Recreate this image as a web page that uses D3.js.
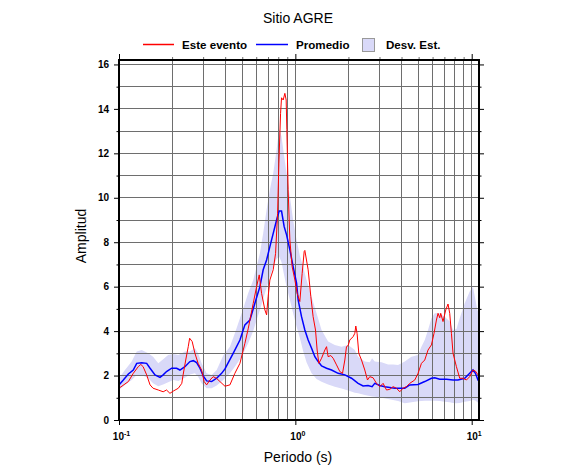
<!DOCTYPE html>
<html><head><meta charset="utf-8">
<script src="https://cdn.jsdelivr.net/npm/d3@7/dist/d3.min.js"></script>
<style>
body{margin:0;background:#fff;}
svg{font-family:"Liberation Sans",Arial,sans-serif;}
</style></head>
<body><svg id="chart" width="586" height="475"></svg>
<script>
const title = "Sitio AGRE";
const xLabel = "Periodo (s)";
const yLabel = "Amplitud";
const legendLabels = ["Este evento", "Promedio", "Desv. Est."];
const xTickValues = [0.1, 1, 10];
const xTickExponents = ["-1", "0", "1"];
const yTickValues = [0, 2, 4, 6, 8, 10, 12, 14, 16];

// Este evento (red)
const eventPeriods = [0.100,0.113,0.1205,0.1286,0.133,0.137,0.1435,0.150,0.156,0.167,0.178,0.186,0.1945,0.203,0.217,0.227,0.231,0.239,0.247,0.2515,0.260,0.2695,0.281,0.294,0.304,0.314,0.328,0.342,0.358,0.3735,0.399,0.4256,0.454,0.485,0.5175,0.540,0.577,0.603,0.624,0.6435,0.672,0.687,0.701,0.717,0.749,0.7725,0.793,0.8065,0.8245,0.835,0.853,0.872,0.887,0.895,0.910,0.931,0.959,0.994,1.024,1.060,1.093,1.122,1.132,1.182,1.224,1.261,1.301,1.329,1.359,1.408,1.470,1.503,1.534,1.589,1.638,1.712,1.787,1.851,1.908,1.950,1.992,2.036,2.126,2.174,2.202,2.239,2.290,2.372,2.476,2.565,2.643,2.759,2.885,3.012,3.145,3.287,3.431,3.583,3.745,3.909,4.081,4.266,4.454,4.754,4.964,5.188,5.417,5.655,5.911,6.115,6.310,6.443,6.588,6.674,6.877,7.124,7.341,7.506,7.674,7.837,8.191,8.551,8.927,9.333,9.743,10.17,10.50,10.86,11.0];
const eventValues = [1.43,1.73,2.10,2.40,2.50,2.40,2.03,1.58,1.43,1.35,1.27,1.35,1.20,1.30,1.43,1.65,2.03,2.70,3.30,3.68,3.53,3.00,2.55,2.25,1.73,1.58,1.80,1.95,1.87,1.73,1.52,1.58,2.10,2.55,3.45,4.10,5.25,6.00,6.53,5.70,4.95,4.73,5.55,6.30,6.76,7.50,9.30,11.56,13.80,14.50,14.40,14.70,14.40,13.06,10.36,8.10,6.90,6.30,5.70,5.33,6.60,7.58,7.63,6.76,5.55,4.65,4.05,3.15,2.55,2.78,3.15,3.30,2.85,2.90,2.78,2.48,2.18,2.10,2.70,3.30,3.35,3.60,3.75,3.90,4.23,3.90,3.00,2.70,2.25,1.80,1.95,1.90,1.65,1.50,1.65,1.35,1.38,1.50,1.43,1.27,1.43,1.50,1.65,1.80,2.10,2.55,2.70,3.15,3.38,3.90,4.50,4.80,4.60,4.80,4.43,4.95,5.22,4.80,3.90,3.00,2.40,1.88,1.88,1.80,1.95,2.25,2.20,2.03,1.95];

// Promedio (blue)
const meanPeriods = [0.100,0.1058,0.113,0.1205,0.126,0.1345,0.1435,0.150,0.160,0.1708,0.178,0.186,0.1989,0.2123,0.2216,0.2365,0.2525,0.2636,0.2755,0.2877,0.3004,0.314,0.3352,0.358,0.3818,0.399,0.444,0.485,0.5175,0.5524,0.5896,0.6295,0.657,0.687,0.717,0.749,0.7827,0.8095,0.835,0.8643,0.8918,0.931,0.9716,1.016,1.037,1.084,1.132,1.182,1.236,1.290,1.347,1.408,1.503,1.604,1.748,1.908,2.082,2.269,2.422,2.585,2.723,2.821,3.012,3.215,3.508,3.662,4.173,4.454,4.964,5.417,5.911,6.172,6.588,7.189,7.837,8.363,9.126,9.743,10.17,10.50,10.86,11.0];
const meanValues = [1.58,1.80,2.07,2.25,2.55,2.58,2.55,2.33,2.03,1.92,2.03,2.18,2.33,2.33,2.25,2.40,2.63,2.67,2.58,2.33,1.98,1.76,1.73,1.88,2.10,2.30,3.00,3.60,4.28,4.50,5.25,6.00,6.76,7.20,7.80,8.40,9.00,9.40,9.40,8.70,8.33,7.66,6.90,6.16,5.40,4.65,4.05,3.60,3.23,2.85,2.63,2.43,2.33,2.25,2.10,2.03,1.88,1.65,1.53,1.55,1.50,1.65,1.55,1.50,1.45,1.43,1.43,1.58,1.60,1.73,1.88,1.90,1.83,1.83,1.80,1.80,1.88,2.10,2.25,2.10,1.80,1.75];

// Desv. Est. band
const bandPeriods = [0.100,0.1081,0.118,0.126,0.1345,0.1466,0.156,0.167,0.178,0.190,0.203,0.217,0.2365,0.2525,0.2695,0.281,0.294,0.314,0.3352,0.358,0.390,0.4256,0.454,0.496,0.540,0.577,0.603,0.6295,0.657,0.687,0.717,0.749,0.7827,0.8095,0.835,0.8643,0.8918,0.931,0.9716,1.016,1.060,1.107,1.157,1.236,1.319,1.408,1.534,1.674,1.827,1.992,2.174,2.269,2.476,2.643,2.723,2.821,3.079,3.356,3.583,3.823,4.173,4.554,4.964,5.188,5.417,5.655,5.911,6.172,6.588,7.031,7.506,7.837,8.191,8.551,9.126,9.743,10.17,10.50,10.77,11.0];
const bandUpper = [1.88,2.25,2.63,3.08,3.15,3.00,2.85,2.55,2.73,2.93,2.97,2.93,3.08,3.08,3.23,3.00,2.55,2.10,2.03,2.25,2.90,3.30,3.90,4.80,5.70,6.30,6.90,7.50,8.40,9.46,10.36,11.10,12.16,13.10,12.76,11.86,11.10,10.06,9.00,8.10,7.40,6.90,6.30,5.55,4.80,4.05,3.53,3.38,3.30,3.38,3.15,2.85,2.63,2.60,2.78,2.63,2.60,2.50,2.50,2.48,2.63,2.85,2.93,3.30,3.60,4.05,4.58,4.80,4.80,4.65,4.43,4.05,4.10,4.58,5.25,5.78,6.00,5.40,4.95,4.80];
const bandLower = [1.35,1.58,1.80,2.03,2.03,1.88,1.65,1.52,1.60,1.70,1.80,1.75,1.90,2.05,2.10,1.95,1.65,1.43,1.43,1.55,1.80,2.10,2.40,2.85,3.45,4.00,4.50,4.95,5.45,5.95,6.45,6.90,7.25,7.36,7.10,6.50,6.00,5.40,4.80,4.20,3.70,3.10,2.60,2.10,1.85,1.72,1.60,1.50,1.42,1.33,1.23,1.20,1.13,1.08,1.06,1.05,1.00,0.95,0.90,0.85,0.75,0.80,0.84,0.86,0.87,0.87,0.87,0.87,0.85,0.82,0.80,0.77,0.75,0.77,0.82,0.85,0.90,0.88,0.80,0.75];

const svg = d3.select("#chart");
const pLeft = 119, pRight = 479, pTop = 60, pBottom = 420;
const x = d3.scaleLog().domain([0.1, 11]).range([pLeft, pRight]);
const y = d3.scaleLinear().domain([0, 16.2]).range([pBottom, pTop]);

svg.append("defs").append("clipPath").attr("id", "clip")
  .append("rect").attr("x", pLeft).attr("y", pTop).attr("width", pRight - pLeft).attr("height", pBottom - pTop);

const plot = svg.append("g").attr("clip-path", "url(#clip)");

// band
const bandData = bandPeriods.map((p, i) => ({p, lo: bandLower[i], hi: bandUpper[i]}));
plot.append("path").datum(bandData)
  .attr("fill", "#d9d9f8")
  .attr("d", d3.area().x(d => x(d.p)).y0(d => y(d.lo)).y1(d => y(d.hi)));

// grid
const minorX = [];
[0.1, 1].forEach(b => { for (let k = 2; k <= 9; k++) minorX.push(+(b * k).toFixed(3)); });
const gridX = minorX.concat(xTickValues);
const gridY = d3.range(1, 17);
plot.append("g").selectAll("line").data(gridX).join("line")
  .attr("x1", d => x(d)).attr("x2", d => x(d)).attr("y1", pTop).attr("y2", pBottom)
  .attr("stroke", "#6e6e6e").attr("stroke-width", 1).attr("shape-rendering", "crispEdges");
plot.append("g").selectAll("line").data(gridY).join("line")
  .attr("x1", pLeft).attr("x2", pRight).attr("y1", d => y(d)).attr("y2", d => y(d))
  .attr("stroke", "#6e6e6e").attr("stroke-width", 1).attr("shape-rendering", "crispEdges");

// lines
const line = d3.line().x(d => x(d[0])).y(d => y(d[1]));
plot.append("path").datum(meanPeriods.map((p, i) => [p, meanValues[i]]))
  .attr("fill", "none").attr("stroke", "#0000ff").attr("stroke-width", 1.5).attr("d", line);
plot.append("path").datum(eventPeriods.map((p, i) => [p, eventValues[i]]))
  .attr("fill", "none").attr("stroke", "#ff0000").attr("stroke-width", 1).attr("d", line);

// axes ticks
function styleAxis(g) {
  g.select(".domain").remove();
  g.selectAll(".tick line").attr("stroke", "#000").attr("stroke-width", 1);
}
const oddY = d3.range(1, 17, 2);
svg.append("g").attr("transform", `translate(${pLeft},0)`)
  .call(d3.axisLeft(y).tickValues(yTickValues).tickSize(5).tickPadding(5).tickFormat(d3.format("d")))
  .call(styleAxis)
  .call(g => g.selectAll("text").attr("font-size", 10).attr("font-weight", "bold").attr("fill", "#000")
    .attr("font-family", "Liberation Sans, Arial, sans-serif"));
svg.append("g").attr("transform", `translate(${pLeft},0)`)
  .call(d3.axisLeft(y).tickValues(oddY).tickSize(2.5).tickFormat(""))
  .call(styleAxis);
svg.append("g").attr("transform", `translate(${pRight},0)`)
  .call(d3.axisRight(y).tickValues(yTickValues).tickSize(5).tickFormat(""))
  .call(styleAxis);
svg.append("g").attr("transform", `translate(${pRight},0)`)
  .call(d3.axisRight(y).tickValues(oddY).tickSize(2.5).tickFormat(""))
  .call(styleAxis);
svg.append("g").attr("transform", `translate(0,${pTop})`)
  .call(d3.axisTop(x).tickValues(xTickValues).tickSize(6).tickFormat(""))
  .call(styleAxis);
svg.append("g").attr("transform", `translate(0,${pTop})`)
  .call(d3.axisTop(x).tickValues(minorX).tickSize(3).tickFormat(""))
  .call(styleAxis)
  .call(g => g.selectAll(".tick line").attr("stroke", "#6e6e6e"));
const xb = svg.append("g").attr("transform", `translate(0,${pBottom})`)
  .call(d3.axisBottom(x).tickValues(xTickValues).tickSize(5).tickPadding(6).tickFormat(""))
  .call(styleAxis);
xb.selectAll(".tick text").each(function(d, i) {
  const t = d3.select(this).attr("font-size", 10).attr("font-weight", "bold").attr("fill", "#000")
    .attr("font-family", "Liberation Sans, Arial, sans-serif").attr("dy", "0.9em").attr("dx", "2");
  t.append("tspan").text("10");
  t.append("tspan").attr("font-size", 7).attr("dy", "-4").text(xTickExponents[i]);
});

// frame
svg.append("rect").attr("x", pLeft).attr("y", pTop).attr("width", pRight - pLeft).attr("height", pBottom - pTop)
  .attr("fill", "none").attr("stroke", "#000").attr("stroke-width", 2);

// titles
svg.append("text").attr("x", 298).attr("y", 23).attr("text-anchor", "middle")
  .attr("font-size", 14).text(title);
svg.append("text").attr("x", 298).attr("y", 462).attr("text-anchor", "middle")
  .attr("font-size", 14).text(xLabel);
svg.append("text").attr("transform", "translate(86,236) rotate(-90)").attr("text-anchor", "middle")
  .attr("font-size", 14).text(yLabel);

// legend
const lg = svg.append("g").attr("font-size", 11.6).attr("font-weight", "bold");
lg.append("line").attr("x1", 143).attr("x2", 174).attr("y1", 44.5).attr("y2", 44.5)
  .attr("stroke", "#ff0000").attr("stroke-width", 1.5);
lg.append("text").attr("x", 182).attr("y", 48.5).text(legendLabels[0]);
lg.append("line").attr("x1", 256).attr("x2", 288).attr("y1", 44.5).attr("y2", 44.5)
  .attr("stroke", "#0000ff").attr("stroke-width", 1.5);
lg.append("text").attr("x", 296).attr("y", 48.5).text(legendLabels[1]);
lg.append("rect").attr("x", 362.5).attr("y", 38.5).attr("width", 12).attr("height", 13)
  .attr("fill", "#d9d9f8").attr("stroke", "#999").attr("stroke-width", 1);
lg.append("text").attr("x", 386).attr("y", 48.5).text(legendLabels[2]);
</script></body></html>
